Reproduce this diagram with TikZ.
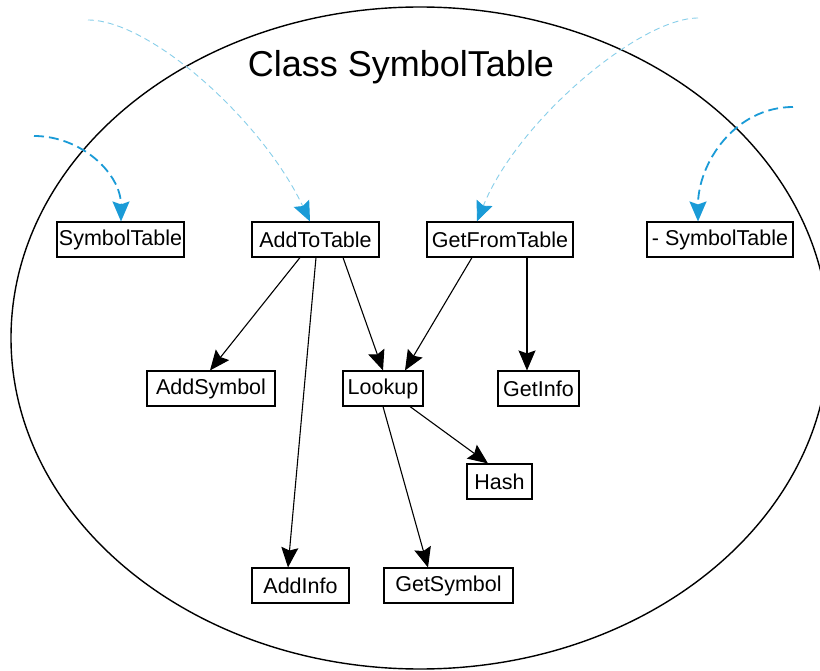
\documentclass[tikz,border=0pt]{standalone}
\usepackage{fontspec}
\setmainfont{Liberation Sans}
\usetikzlibrary{arrows.meta}
\definecolor{callblue}{RGB}{26,155,215}
\definecolor{calllight}{RGB}{136,207,234}
\tikzset{tiphead/.tip={Stealth[length=20pt,width=17pt,inset=3pt]}}
\begin{document}
\begin{tikzpicture}[x=1pt,y=-1pt,
  fn/.style={draw, line width=1.1pt, minimum height=35pt, inner sep=0pt,
    font=\fontsize{21.5}{25}\selectfont},
  call/.style={line width=1.1pt, -tiphead},
  extthick/.style={callblue, line width=1.8pt, dash pattern=on 10pt off 5pt,
    -{tiphead[fill=callblue]}},
  extthin/.style={calllight, line width=0.9pt, dash pattern=on 6pt off 4pt,
    -{tiphead[color=callblue,fill=callblue]}}]
\useasboundingbox (0,0) rectangle (820,671);
\fill[white] (0,0) rectangle (820,671);

% class boundary
\draw[line width=1.4pt] (420,338) ellipse [x radius=409, y radius=331];
\node (title) at (401,67) {\fontsize{36}{42}\selectfont Class SymbolTable};

% member functions
\node[fn, minimum width=127pt] (ctor)   at (120.5,239.5) {SymbolTable};
\node[fn, minimum width=127pt] (add)    at (315.5,239.5) {AddToTable};
\node[fn, minimum width=146pt] (get)    at (500,239.5)   {GetFromTable};
\node[fn, minimum width=146pt] (dtor)   at (720,239.5)   {- SymbolTable};
\node[fn, minimum width=128pt] (asym)   at (211,388.5)   {AddSymbol};
\node[fn, minimum width=80pt]  (look)   at (383,388.5)   {Lookup};
\node[fn, minimum width=81pt]  (ginfo)  at (538.5,388.5) {GetInfo};
\node[fn, minimum width=65pt]  (hash)   at (499.5,481.5) {Hash};
\node[fn, minimum width=97pt]  (ainfo)  at (300.5,585.5) {AddInfo};
\node[fn, minimum width=129pt] (gsym)   at (448.5,585.5) {GetSymbol};

% internal calls
\draw[call] ([xshift=-15.5pt]add.south) -- ([xshift=-1pt]asym.north);
\draw[call] ([xshift=0.5pt]add.south)   -- ([xshift=-12.5pt]ainfo.north);
\draw[call] ([xshift=27.5pt]add.south)  -- (look.north);
\draw[call] ([xshift=-28pt]get.south)   -- ([xshift=22pt]look.north);
\draw[call] ([xshift=27pt]get.south)    -- ([xshift=-11.5pt]ginfo.north);
\draw[call] ([xshift=27pt]look.south)   -- ([xshift=-11.5pt]hash.north);
\draw[call] (look.south)                -- ([xshift=-20.5pt]gsym.north);

% calls from outside the class
\coordinate (c1) at (34,136);
\coordinate (c2) at (88,20);
\coordinate (c3) at (698,18);
\coordinate (c4) at (793,107);
\draw[extthick] (c1) to[out=0, in=90] ([xshift=0.5pt]ctor.north);
\draw[extthin] (c2) .. controls (150,20) and (262,120) .. ([xshift=-5.5pt]add.north);
\draw[extthin] (c3) .. controls (640,18) and (518,120) .. ([xshift=-23pt]get.north);
\draw[extthick] (c4) to[out=180, in=90] ([xshift=-22pt]dtor.north);
\end{tikzpicture}
\end{document}
